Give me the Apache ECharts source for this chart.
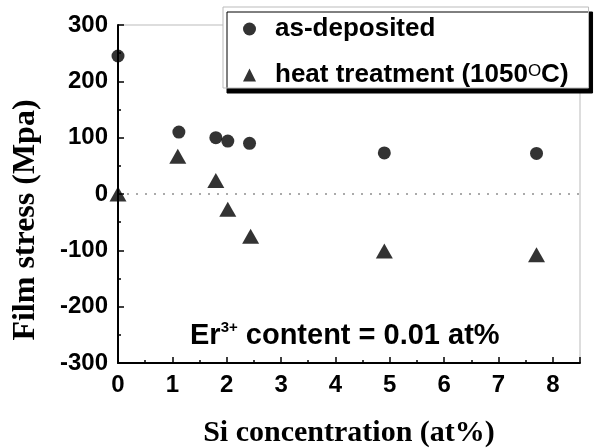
<!DOCTYPE html>
<html>
<head>
<meta charset="utf-8">
<script src="https://cdn.jsdelivr.net/npm/echarts@6/dist/echarts.min.js"></script>
<style>
  html, body { margin: 0; padding: 0; background: #fff; }
  #chart { width: 605px; height: 448px; }
</style>
</head>
<body>
<div id="chart"></div>
<script>
// Si concentration (at%) vs film stress (MPa)
var asDepX = [0, 1.12, 1.8, 2.02, 2.42, 4.9, 7.7]
var asDepY = [245, 110, 100, 94, 90, 73, 72]
var heatX = [0, 1.1, 1.8, 2.02, 2.44, 4.9, 7.7]
var heatY = [0, 67, 24, -27, -75, -101, -108]
var seriesNames = ['as-deposited', 'heat treatment (1050°C)']

var sans = "'Liberation Sans', Arial, sans-serif"
var serif = "'Liberation Serif', 'Times New Roman', serif"

function pairs (xs, ys) {
  return xs.map(function (x, i) { return [x, ys[i]] })
}

var myChart = echarts.init(document.getElementById('chart'), null, { renderer: 'canvas' })
var tickLabel = { color: '#000', fontFamily: sans, fontWeight: 'bold', fontSize: 24 }

var option = {
  animation: false,
  backgroundColor: '#fff',
  grid: {
    left: 118, right: 25, top: 25, bottom: 85,
    outerBoundsMode: 'none',
    show: true, borderColor: '#bbb', borderWidth: 1
  },
  legend: {
    orient: 'vertical',
    left: 223, top: 7,
    padding: [9, 20, 0, 20],
    itemGap: 20,
    itemWidth: 13, itemHeight: 13,
    backgroundColor: '#fff',
    borderColor: '#bbb', borderWidth: 1,
    shadowColor: '#000', shadowBlur: 0, shadowOffsetX: 4, shadowOffsetY: 5,
    data: seriesNames,
    formatter: function (name) {
      return name === seriesNames[1] ? 'heat treatment (1050{sup|O}C)' : name
    },
    textStyle: {
      color: '#000', fontFamily: sans, fontWeight: 'bold', fontSize: 26,
      lineHeight: 25, padding: [0, 0, 0, 14],
      rich: {
        sup: { fontFamily: sans, fontSize: 17, fontWeight: 'normal', verticalAlign: 'top', lineHeight: 17, color: '#000' }
      }
    }
  },
  xAxis: [{
    type: 'value', min: 0, max: 8.5, interval: 0.5,
    position: 'bottom',
    name: 'Si concentration (at%)',
    nameLocation: 'middle', nameGap: 55,
    nameTextStyle: { color: '#000', fontFamily: serif, fontWeight: 'bold', fontSize: 30 },
    axisLine: { onZero: false, lineStyle: { color: '#000', width: 2 } },
    axisTick: { inside: true, length: 3, lineStyle: { color: '#000', width: 1.5 } },
    axisLabel: Object.assign({ margin: 10, formatter: function (v) { return v % 1 === 0 ? v : '' } }, tickLabel),
    splitLine: { show: false },
    z: 3
  }, {
    type: 'value', min: 0, max: 8.5, interval: 1,
    position: 'bottom',
    axisLine: { show: false, onZero: false },
    axisTick: { inside: true, length: 6, lineStyle: { color: '#000', width: 1.5 } },
    axisLabel: { show: false },
    splitLine: { show: false },
    z: 3
  }],
  yAxis: [{
    type: 'value', min: -300, max: 300, interval: 100,
    name: 'Film stress (Mpa)',
    nameLocation: 'middle', nameGap: 76,
    nameTextStyle: { color: '#000', fontFamily: serif, fontWeight: 'bold', fontSize: 32, padding: [0, 52, 0, 0] },
    axisLine: { onZero: false, lineStyle: { color: '#000', width: 2 } },
    axisTick: { inside: true, length: 6, lineStyle: { color: '#000', width: 1.5 } },
    minorTick: { show: true, splitNumber: 2, length: 3, lineStyle: { color: '#000', width: 1.5 } },
    axisLabel: Object.assign({ margin: 10 }, tickLabel),
    splitLine: { show: false },
    z: 3
  }, {
    // only used for the dotted zero line
    type: 'value', min: -300, max: 300, interval: 300,
    position: 'left',
    axisLine: { show: false, onZero: false },
    axisTick: { show: false },
    axisLabel: { show: false },
    splitLine: {
      show: true, showMinLine: false, showMaxLine: false,
      lineStyle: { color: '#aaa', type: [2, 7], width: 2 }
    }
  }],
  graphic: [{
    type: 'text',
    left: 190, top: 320,
    style: {
      text: '{a|Er}{s|3+}{a| content = 0.01 at%}',
      rich: {
        a: { fontFamily: sans, fontWeight: 'bold', fontSize: 29, lineHeight: 32, fill: '#000' },
        s: { fontFamily: sans, fontWeight: 'bold', fontSize: 15, lineHeight: 28, verticalAlign: 'top', fill: '#000' }
      }
    }
  }],
  series: [{
    name: seriesNames[0],
    type: 'scatter',
    symbol: 'circle',
    symbolSize: 13,
    itemStyle: { color: '#000' },
    data: pairs(asDepX, asDepY)
  }, {
    name: seriesNames[1],
    type: 'scatter',
    symbol: 'triangle',
    symbolSize: [17, 15],
    itemStyle: { color: '#000' },
    data: pairs(heatX, heatY)
  }]
}

myChart.setOption(option)
</script>
</body>
</html>
